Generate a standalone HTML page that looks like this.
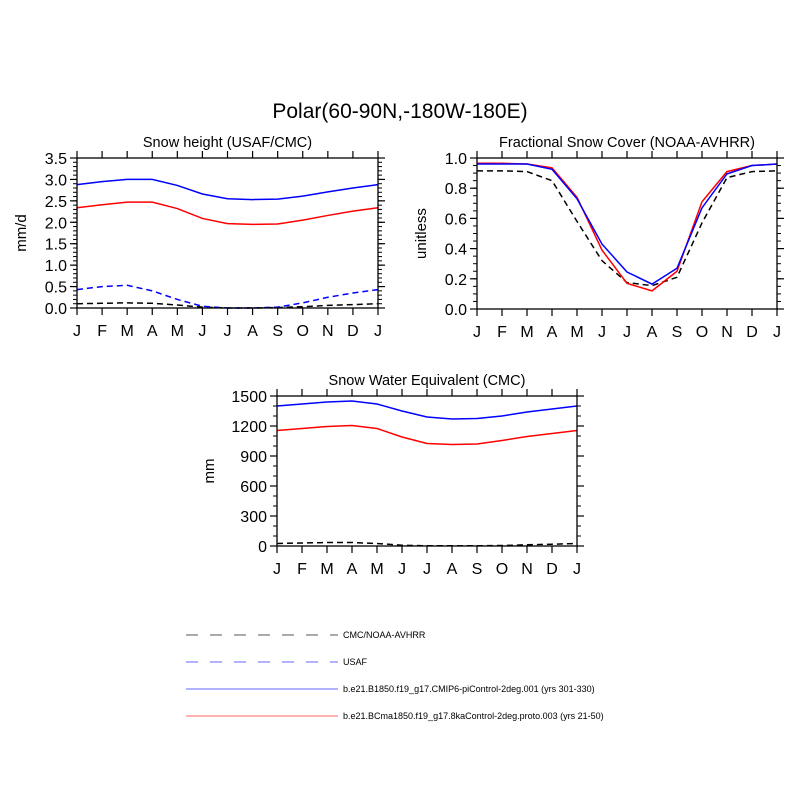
<!DOCTYPE html>
<html><head><meta charset="utf-8"><style>
body{margin:0;background:#fff}
svg{display:block;font-family:"Liberation Sans",sans-serif}
</style></head><body>
<svg id="c" width="800" height="800" xmlns="http://www.w3.org/2000/svg">
<text x="400" y="118" font-size="21" text-anchor="middle">Polar(60-90N,-180W-180E)</text>
<g font-size="9">
<line x1="186" y1="635" x2="338" y2="635" stroke="#555" stroke-dasharray="12,12" stroke-width="1"/>
<text x="343" y="638">CMC/NOAA-AVHRR</text>
<line x1="186" y1="662" x2="338" y2="662" stroke="#66f" stroke-dasharray="12,12" stroke-width="1"/>
<text x="343" y="665">USAF</text>
<line x1="186" y1="689" x2="338" y2="689" stroke="#66f" stroke-width="1"/>
<text x="343" y="692">b.e21.B1850.f19_g17.CMIP6-piControl-2deg.001 (yrs 301-330)</text>
<line x1="186" y1="716" x2="338" y2="716" stroke="#f66" stroke-width="1"/>
<text x="343" y="719">b.e21.BCma1850.f19_g17.8kaControl-2deg.proto.003 (yrs 21-50)</text>
</g>
</svg>
<script>
const months=["J","F","M","A","M","J","J","A","S","O","N","D","J"];
const shBlue=[2.88,2.95,3.0,3.0,2.86,2.66,2.55,2.53,2.54,2.61,2.71,2.8,2.88];
const shRed=[2.34,2.41,2.47,2.47,2.32,2.09,1.97,1.95,1.96,2.05,2.16,2.26,2.34];
const shUsaf=[0.43,0.5,0.53,0.4,0.2,0.04,0.0,0.0,0.02,0.12,0.25,0.35,0.43];
const shCmc=[0.1,0.11,0.12,0.11,0.07,0.02,0.0,0.0,0.01,0.03,0.06,0.08,0.1];
const fcObs=[0.915,0.915,0.91,0.85,0.58,0.32,0.175,0.155,0.21,0.57,0.87,0.91,0.915];
const fcBlue=[0.96,0.96,0.96,0.925,0.73,0.43,0.245,0.165,0.27,0.67,0.895,0.95,0.96];
const fcRed=[0.965,0.965,0.96,0.935,0.74,0.39,0.17,0.12,0.25,0.71,0.91,0.95,0.96];
const sweBlue=[1400,1420,1440,1450,1420,1350,1290,1270,1275,1300,1340,1370,1400];
const sweRed=[1155,1175,1195,1205,1175,1090,1025,1015,1020,1055,1095,1125,1155];
const sweObs=[25,30,35,35,25,8,2,2,2,5,12,18,25];
const shTicks=["0.0","0.5","1.0","1.5","2.0","2.5","3.0","3.5"];
const fcTicks=["0.0","0.2","0.4","0.6","0.8","1.0"];
const sweTicks=["0","300","600","900","1200","1500"];
const NS="http://www.w3.org/2000/svg";
const svg=document.getElementById('c');
function mk(t,a,p){const e=document.createElementNS(NS,t);for(const k in a)e.setAttribute(k,a[k]);(p||svg).appendChild(e);return e;}
function panel(o){
 const g=mk('g',{});
 
 
 const {x0,x1,y0,y1,ymin,ymax}=o;
 const sx=i=>x0+(x1-x0)*i/12, sy=v=>y1-(y1-y0)*(v-ymin)/(ymax-ymin);
 const t=mk('text',{x:(x0+x1)/2,y:y0-11,'font-size':14.5,'text-anchor':'middle'},g);t.textContent=o.title;
 
 const yt=mk('text',{x:o.ytx,y:(y0+y1)/2,'font-size':15,'text-anchor':'middle',transform:`rotate(-90 ${o.ytx} ${(y0+y1)/2})`},g);yt.textContent=o.ytitle;
 
 // minor ticks
 for(let v=ymin;v<=ymax+1e-9;v+=o.minor){const y=sy(v);
  mk('line',{x1:x0-4,x2:x0,y1:y,y2:y,stroke:'#000','stroke-width':1},g);
  mk('line',{x1:x1,x2:x1+4,y1:y,y2:y,stroke:'#000','stroke-width':1},g);}
 o.ticks.forEach(s=>{const y=sy(parseFloat(s));
  mk('line',{x1:x0-7,x2:x0,y1:y,y2:y,stroke:'#000','stroke-width':1.2},g);
  mk('line',{x1:x1,x2:x1+7,y1:y,y2:y,stroke:'#000','stroke-width':1.2},g);
  const l=mk('text',{x:x0-10,y:y+6,'font-size':16,'text-anchor':'end'},g);l.textContent=s;
  });
 months.forEach((m,i)=>{const x=sx(i);
  mk('line',{x1:x,x2:x,y1:y1,y2:y1+7,stroke:'#000','stroke-width':1.2},g);
  mk('line',{x1:x,x2:x,y1:y0-7,y2:y0,stroke:'#000','stroke-width':1.2},g);
  const l=mk('text',{x:x,y:y1+28,'font-size':16,'text-anchor':'middle'},g);l.textContent=m;
  });
 o.series.forEach(s=>{
  const p=mk('polyline',{points:s.d.map((v,i)=>sx(i)+','+sy(v)).join(' '),fill:'none',stroke:s.c,'stroke-width':1.5,'stroke-dasharray':s.dash||'none'},g);
  });
 const f=mk('rect',{x:x0,y:y0,width:x1-x0,height:y1-y0,fill:'none',stroke:'#000','stroke-width':1.3},g);
 
}
panel({name:'snow-height-panel',title:'Snow height (USAF/CMC)',ytitle:'mm/d',ytx:26,x0:77,x1:378,y0:158,y1:308,ymin:0,ymax:3.5,minor:0.1,ticks:shTicks,
 series:[{d:shCmc,c:'#000',dash:'6,4',n:'cmc-line'},{d:shUsaf,c:'#00f',dash:'6,4',n:'usaf-line'},{d:shRed,c:'#f00',n:'8ka-line'},{d:shBlue,c:'#00f',n:'picontrol-line'}]});
panel({name:'snow-cover-panel',title:'Fractional Snow Cover (NOAA-AVHRR)',ytitle:'unitless',ytx:426,x0:477,x1:777,y0:158,y1:309,ymin:0,ymax:1,minor:0.05,ticks:fcTicks,
 series:[{d:fcObs,c:'#000',dash:'6,4',n:'avhrr-line'},{d:fcRed,c:'#f00',n:'8ka-line'},{d:fcBlue,c:'#00f',n:'picontrol-line'}]});
panel({name:'swe-panel',title:'Snow Water Equivalent (CMC)',ytitle:'mm',ytx:214,x0:277,x1:577,y0:396,y1:546,ymin:0,ymax:1500,minor:100,ticks:sweTicks,
 series:[{d:sweObs,c:'#000',dash:'6,4',n:'cmc-line'},{d:sweRed,c:'#f00',n:'8ka-line'},{d:sweBlue,c:'#00f',n:'picontrol-line'}]});
</script>
</body></html>
